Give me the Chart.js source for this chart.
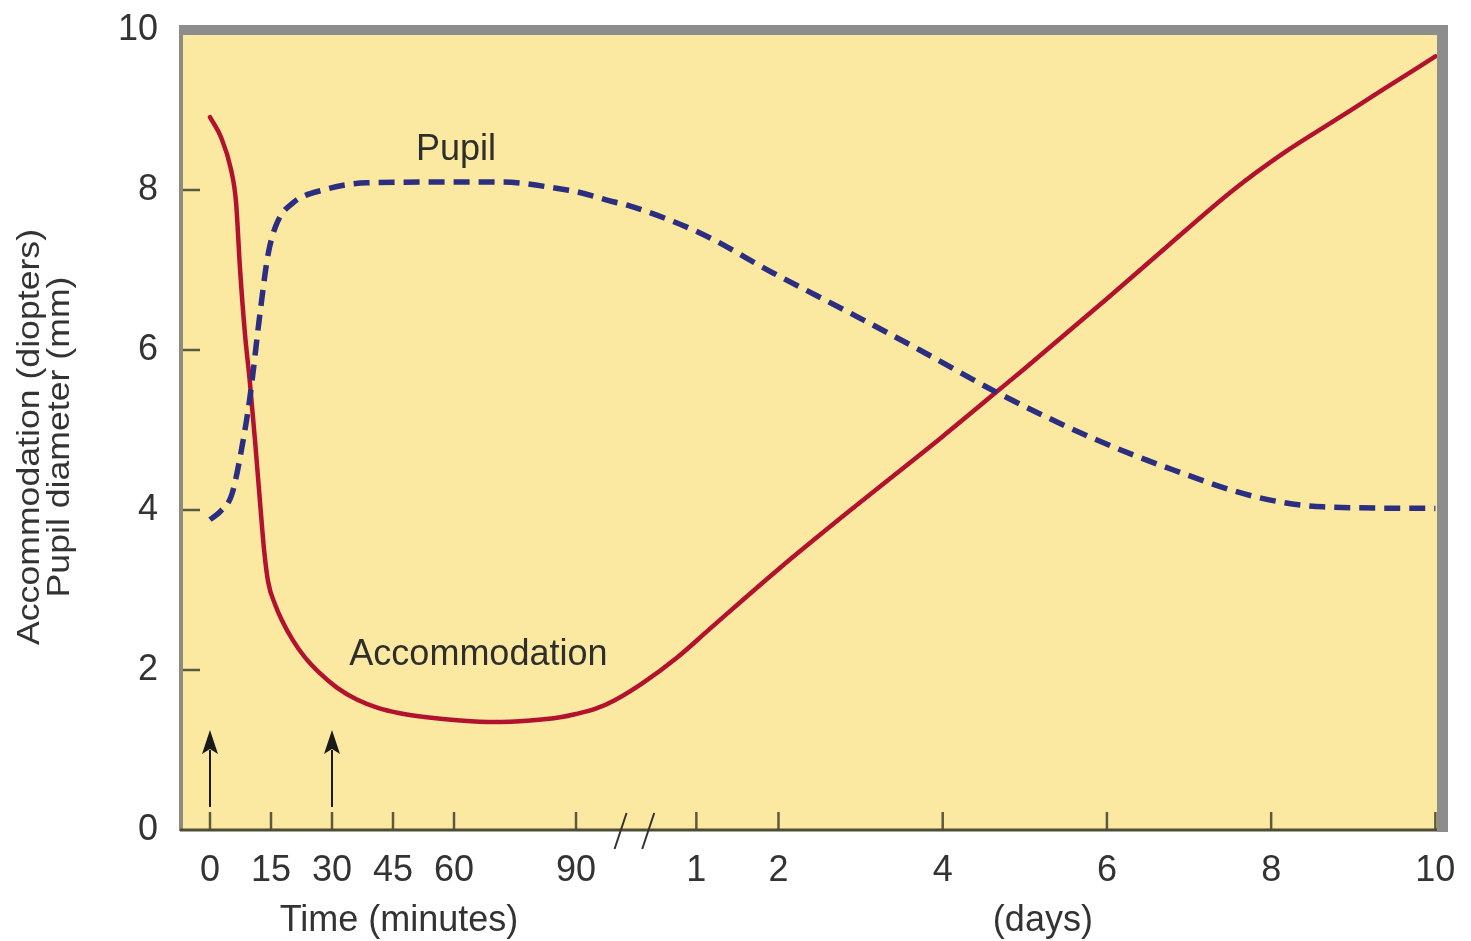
<!DOCTYPE html>
<html>
<head>
<meta charset="utf-8">
<script src="https://cdn.jsdelivr.net/npm/chart.js@4.4.1/dist/chart.umd.min.js"></script>
<style>
html,body{margin:0;padding:0;background:#ffffff;}
#wrap{width:1471px;height:941px;position:relative;}
</style>
</head>
<body>
<div id="wrap"><canvas id="c" width="1471" height="941"></canvas></div>
<script>
// ---- Data ----
// Time axis: first segment in minutes, second segment in days (axis break between)
const minuteTicks = [0, 15, 30, 45, 60, 90];
const dayTicks = [1, 2, 4, 6, 8, 10];
const yTicks = [0, 2, 4, 6, 8, 10];

// Accommodation (diopters)
const accomMinutes = [0, 2.7, 5.2, 6.4, 7.4, 8.6, 9.8, 11.1, 12.3, 13.3, 14.3, 16.0, 17.7, 20.4, 23.3, 27.0, 31.2, 36.1, 41.1, 46.7, 53.3, 61.5, 69.6, 78.7, 86.1, 90, 95];
const accomMinuteValues = [8.91, 8.66, 8.25, 7.85, 7.0, 6.2, 5.6, 4.85, 4.1, 3.5, 3.1, 2.82, 2.62, 2.37, 2.16, 1.96, 1.78, 1.63, 1.53, 1.46, 1.41, 1.37, 1.35, 1.37, 1.41, 1.45, 1.52];
const accomDays = [0, 0.35, 0.77, 1.17, 2, 3, 4, 4.66, 5, 6, 6.74, 7.54, 8.15, 8.76, 9.37, 10];
const accomDayValues = [1.62, 1.84, 2.16, 2.52, 3.26, 4.1, 4.92, 5.48, 5.77, 6.64, 7.3, 8.0, 8.46, 8.86, 9.26, 9.67];

// Pupil diameter (mm)
const pupilMinutes = [0, 2.5, 5.4, 7.9, 9.8, 12.3, 14.3, 16.5, 20.4, 27.8, 38.6, 59.7, 71.3, 87.8, 90];
const pupilMinuteValues = [3.88, 3.98, 4.2, 4.8, 5.4, 6.46, 7.2, 7.59, 7.84, 8.0, 8.09, 8.1, 8.1, 8.0, 7.98];
const pupilDays = [0, 0.16, 1.05, 1.94, 2.84, 3.72, 4.64, 5.8, 6.81, 7.83, 8.63, 10];
const pupilDayValues = [7.85, 7.81, 7.46, 6.96, 6.48, 6.0, 5.48, 4.91, 4.5, 4.16, 4.04, 4.02];

// ---- Broken time axis: minutes map 1:1, days are placed after the break ----
const DAY_ORIGIN = 99.4;   // axis position of day 0 (in minute units)
const DAY_SCALE = 20.19;   // axis units per day
const AXIS_MIN = -7.13, AXIS_MAX = 301.7;
function dayToPos(d) { return DAY_ORIGIN + DAY_SCALE * d; }

const tickPositions = minuteTicks.concat(dayTicks.map(dayToPos));
const tickLabels = minuteTicks.map(String).concat(dayTicks.map(String));

function buildSeries(mins, minVals, days, dayVals) {
  return mins.map((m, i) => ({x: m, y: minVals[i]}))
    .concat(days.map((d, i) => ({x: dayToPos(d), y: dayVals[i]})));
}

const FONT = '"Liberation Sans", Arial, Helvetica, sans-serif';
const TEXT = '#333333';
Chart.defaults.font.family = FONT;

const decor = {
  id: 'decor',
  beforeDraw(chart) {
    const {ctx, chartArea: a} = chart;
    ctx.save();
    ctx.fillStyle = '#ffffff';
    ctx.fillRect(0, 0, chart.width, chart.height);
    ctx.fillStyle = '#fce9a1';
    ctx.fillRect(a.left, a.top, a.right - a.left, a.bottom - a.top);
    ctx.restore();
  },
  afterDatasetsDraw(chart) {
    const {ctx, chartArea: a, scales: {x, y}} = chart;
    ctx.save();
    // y ticks (inward)
    ctx.strokeStyle = '#5c5a3e';
    ctx.lineWidth = 2.5;
    yTicks.forEach(v => {
      if (v === 0 || v === 10) return;
      const py = y.getPixelForValue(v);
      ctx.beginPath(); ctx.moveTo(a.left, py); ctx.lineTo(a.left + 19, py); ctx.stroke();
    });
    // x ticks (inward)
    tickPositions.forEach(v => {
      const px = x.getPixelForValue(v);
      ctx.beginPath(); ctx.moveTo(px, a.bottom); ctx.lineTo(px, a.bottom - 18); ctx.stroke();
    });
    // left axis
    ctx.strokeStyle = '#8c8b7c';
    ctx.lineWidth = 4;
    ctx.beginPath(); ctx.moveTo(a.left, a.top); ctx.lineTo(a.left, a.bottom + 1); ctx.stroke();
    // bottom axis
    ctx.strokeStyle = '#4f4d35';
    ctx.lineWidth = 3;
    ctx.beginPath(); ctx.moveTo(a.left - 1, a.bottom); ctx.lineTo(a.right + 4, a.bottom); ctx.stroke();
    // top and right gray borders
    ctx.fillStyle = '#8d8d8d';
    ctx.fillRect(a.left - 2, a.top - 5, a.right - a.left + 13, 10);
    ctx.fillRect(a.right, a.top - 5, 11, a.bottom - a.top + 7);
    // axis break marks
    const p90 = x.getPixelForValue(90), pd1 = x.getPixelForValue(dayToPos(1));
    ctx.strokeStyle = '#333333';
    ctx.lineWidth = 2;
    [0.37, 0.6].forEach(f => {
      const bx = p90 + f * (pd1 - p90);
      ctx.beginPath(); ctx.moveTo(bx - 6, a.bottom + 19); ctx.lineTo(bx + 6, a.bottom - 17); ctx.stroke();
    });
    // arrows at 0 and 30 minutes
    ctx.strokeStyle = '#1a1a1a';
    ctx.fillStyle = '#1a1a1a';
    ctx.lineWidth = 2;
    [0, 30].forEach(m => {
      const px = x.getPixelForValue(m);
      ctx.beginPath(); ctx.moveTo(px, a.bottom - 23); ctx.lineTo(px, a.bottom - 80); ctx.stroke();
      ctx.beginPath();
      ctx.moveTo(px, a.bottom - 100);
      ctx.lineTo(px - 8, a.bottom - 76);
      ctx.lineTo(px, a.bottom - 81);
      ctx.lineTo(px + 8, a.bottom - 76);
      ctx.closePath(); ctx.fill();
    });
    // series labels
    ctx.fillStyle = '#2e2e2a';
    ctx.font = '36px ' + FONT;
    ctx.textAlign = 'center';
    ctx.textBaseline = 'middle';
    ctx.fillText('Pupil', x.getPixelForValue(60.5), y.getPixelForValue(8.5));
    ctx.fillText('Accommodation', x.getPixelForValue(66), y.getPixelForValue(2.19));
    // x axis titles
    ctx.fillStyle = TEXT;
    ctx.fillText('Time (minutes)', (x.getPixelForValue(0) + x.getPixelForValue(90)) / 2 + 6, 921);
    ctx.fillText('(days)', x.getPixelForValue(dayToPos(5.22)), 921);
    // y axis title (two lines)
    const cy = (a.top + a.bottom) / 2 + 7;
    ctx.font = '31px ' + FONT;
    ctx.textBaseline = 'alphabetic';
    [['Accommodation (diopters)', 39], ['Pupil diameter (mm)', 69]].forEach(([t, bx]) => {
      ctx.save();
      ctx.translate(bx, cy);
      ctx.rotate(-Math.PI / 2);
      ctx.scale(1.15, 1);
      ctx.fillText(t, 0, 0);
      ctx.restore();
    });
    ctx.restore();
  }
};

new Chart(document.getElementById('c'), {
  type: 'line',
  data: {
    datasets: [
      {
        label: 'Pupil',
        data: buildSeries(pupilMinutes, pupilMinuteValues, pupilDays, pupilDayValues),
        borderColor: '#2c2e82',
        borderWidth: 5.5,
        borderDash: [16, 9],
        borderCapStyle: 'butt',
        pointRadius: 0,
        cubicInterpolationMode: 'monotone',
        fill: false
      },
      {
        label: 'Accommodation',
        data: buildSeries(accomMinutes, accomMinuteValues, accomDays, accomDayValues),
        borderColor: '#b3122f',
        borderWidth: 4.5,
        borderCapStyle: 'round',
        pointRadius: 0,
        cubicInterpolationMode: 'monotone',
        fill: false
      }
    ]
  },
  options: {
    responsive: false,
    animation: false,
    devicePixelRatio: 1,
    layout: {padding: {top: 30, right: 34, left: 0, bottom: 0}},
    plugins: {legend: {display: false}, tooltip: {enabled: false}},
    scales: {
      x: {
        type: 'linear',
        min: AXIS_MIN,
        max: AXIS_MAX,
        afterBuildTicks: s => { s.ticks = tickPositions.map(v => ({value: v})); },
        afterFit: s => { s.height = 111; s.paddingLeft = 0; s.paddingRight = 0; },
        grid: {display: false, drawTicks: false},
        border: {display: false},
        ticks: {
          autoSkip: false, maxRotation: 0, minRotation: 0,
          padding: 19,
          color: TEXT,
          font: {size: 36, family: FONT},
          callback: (v, i) => tickLabels[i]
        }
      },
      y: {
        min: 0, max: 10,
        afterBuildTicks: s => { s.ticks = yTicks.map(v => ({value: v})); },
        afterFit: s => { s.width = 181; s.paddingTop = 0; s.paddingBottom = 0; },
        grid: {display: false, drawTicks: false},
        border: {display: false},
        ticks: {
          padding: 23,
          color: TEXT,
          font: {size: 36, family: FONT},
          callback: v => String(v)
        }
      }
    }
  },
  plugins: [decor]
});
</script>
</body>
</html>
